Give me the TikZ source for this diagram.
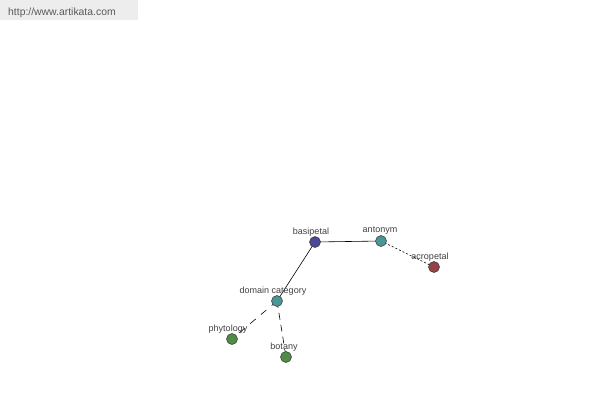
\documentclass[tikz,border=0pt]{standalone}
\usepackage{fontspec}
\setmainfont{Liberation Sans}
\begin{document}
\begin{tikzpicture}[x=1pt,y=-1pt,
  vert/.style={circle,draw=black!80,line width=0.5pt,minimum size=11pt,inner sep=0pt},
  lbl/.style={font=\fontsize{9pt}{10pt}\selectfont,text=black!75,inner sep=0pt},
  edge/.style={line width=0.6pt,black}]
\useasboundingbox (0,0) rectangle (600,400);
\fill[black!7] (0,0) rectangle (138,20);
\node[font=\fontsize{10.4pt}{12pt}\selectfont,text=black!65,anchor=west,inner sep=0pt] (url) at (8,12.5) {http://www.artikata.com};
\coordinate (pb) at (315,242);
\coordinate (pa) at (381,241);
\coordinate (pc) at (434,267);
\coordinate (pd) at (277,301);
\coordinate (pp) at (232,339);
\coordinate (pt) at (286,357);
\draw[edge] (pb) -- (pa);
\draw[edge] (pb) -- (pd);
\draw[edge,dash pattern=on 2pt off 2pt] (pa) -- (pc);
\draw[edge,dash pattern=on 7pt off 7pt] (pd) -- (pp);
\draw[edge,dash pattern=on 7pt off 5pt] (pd) -- (pt);
\node[vert,fill={rgb,255:red,74;green,74;blue,150}] (b) at (pb) {};
\node[vert,fill={rgb,255:red,74;green,150;blue,150}] (a) at (pa) {};
\node[vert,fill={rgb,255:red,150;green,66;blue,70}] (c) at (pc) {};
\node[vert,fill={rgb,255:red,74;green,150;blue,150}] (d) at (pd) {};
\node[vert,fill={rgb,255:red,80;green,140;blue,70}] (p) at (pp) {};
\node[vert,fill={rgb,255:red,80;green,140;blue,70}] (t) at (pt) {};
\node[lbl] (lb) at (311,232) {basipetal};
\node[lbl] (la) at (380,231) {antonym};
\node[lbl] (lc) at (430,257) {acropetal};
\node[lbl] (ld) at (273,291) {domain category};
\node[lbl] (lp) at (228,329) {phytology};
\node[lbl] (lt) at (284,347) {botany};
\end{tikzpicture}
\end{document}
